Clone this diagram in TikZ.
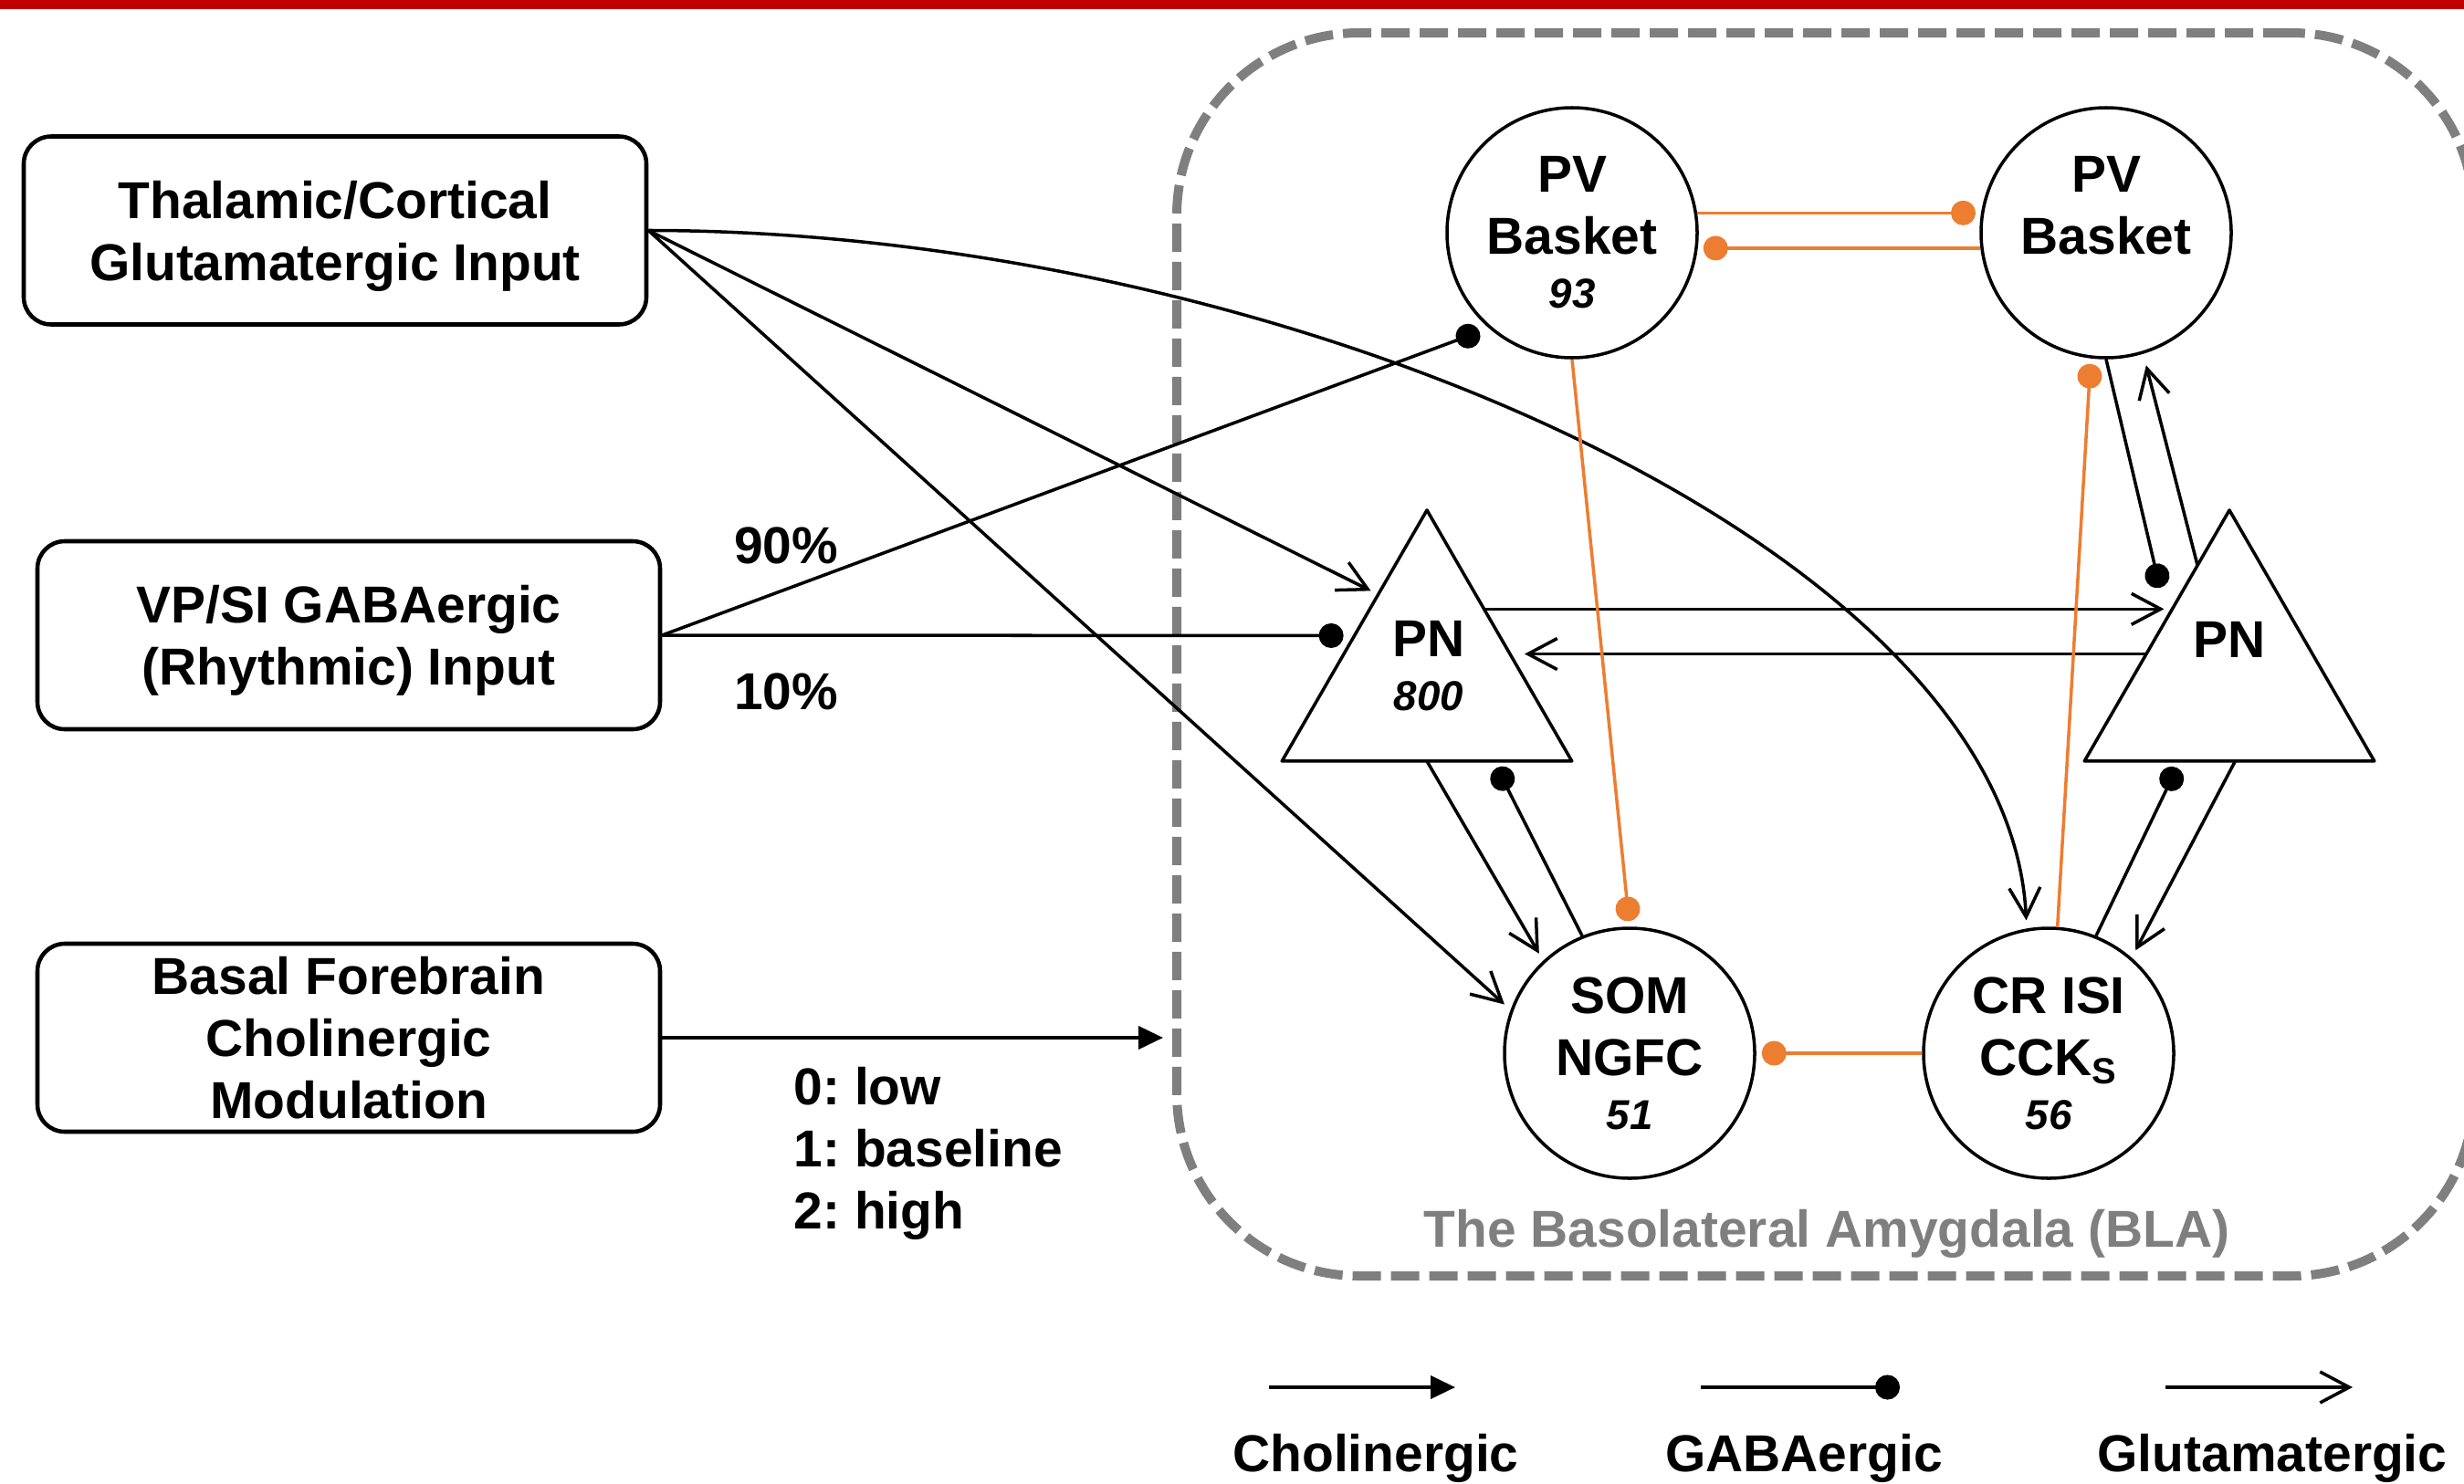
\documentclass[tikz,border=0pt]{standalone}
\usepackage{fontspec}
\setmainfont{Liberation Sans}
\usetikzlibrary{arrows.meta,shapes.geometric,calc}
\definecolor{rojobarra}{HTML}{C00000}
\definecolor{naranja}{HTML}{ED7D31}
\definecolor{gris}{HTML}{7F7F7F}
\newcommand{\numtxt}{\fontsize{13}{16}\selectfont\itshape}
\frenchspacing

\begin{document}
\begin{tikzpicture}[line width=1pt, line join=round,
    every node/.style={font=\fontsize{16.2}{19.4}\selectfont\bfseries, align=center, inner sep=0pt},
    caja/.style={draw, line width=1.3pt, rounded corners=0.3cm, minimum width=6.82cm, minimum height=2.06cm, text depth=0pt},
    celula/.style={draw, circle, minimum size=2.74cm},
    piramide/.style={draw, regular polygon, regular polygon sides=3, minimum size=3.667cm, outer sep=0pt},
    glu/.style={-{Straight Barb[length=0.32cm,width=0.34cm]}, shorten >=0.09cm},
    gaba/.style={-{Circle[length=0.27cm]}, shorten >=0.08cm},
    gabanar/.style={gaba, naranja, shorten >=0.06cm},
    chol/.style={-{Triangle[length=0.27cm,width=0.25cm]}, line width=1.1pt},
    zona/.style={draw=gris, line width=0.1cm, dash pattern=on 0.31cm off 0.11cm, rounded corners=2cm, minimum width=14.21cm, minimum height=13.62cm}]
  \useasboundingbox (0,0) rectangle (26.99,-16.25);
  % la franja roja de arriba
  \fill[rojobarra] (0,0) rectangle (26.99,-0.105);
  % la amigdala basolateral, con su nombre abajo
  \node[zona] (bla) at (19.995,-7.17) {};
  \node[text=gris, anchor=base] (blatxt) at (20.01,-13.66) {The Basolateral Amygdala (BLA)};
  % las tres entradas de la izquierda
  \node[caja] (thal) at (3.67,-2.525) {Thalamic/Cortical\\Glutamatergic Input};
  \node[caja] (vpsi) at (3.82,-6.96) {VP/SI GABAergic\\(Rhythmic) Input};
  \node[caja] (bf) at (3.82,-11.37) {Basal Forebrain\\Cholinergic\\Modulation};
  % las celulas (circulos) y las piramidales (triangulos)
  \node[celula] (pvA) at (17.22,-2.55) {PV\\Basket\\[-2.6pt]{\numtxt 93}};
  \node[celula] (pvB) at (23.07,-2.55) {PV\\Basket\\[-2.6pt]{\numtxt\phantom{93}}};
  \node[celula] (som) at (17.85,-11.54) {SOM\\NGFC\\[-2.6pt]{\numtxt 51}};
  \node[celula] (crisi) at (22.44,-11.54) {CR ISI\\CCK\textsubscript{S}\\[-2.6pt]{\numtxt 56}};
  \node[piramide] (pnA) at (15.63,-7.423) {};
  \node[piramide] (pnB) at (24.42,-7.423) {};
  \node (pnAtxt) at (15.65,-7.295) {PN\\[-2.6pt]{\numtxt 800}};
  \node (pnBtxt) at (24.42,-7.005) {PN};
  % glutamatergicas (punta abierta)
  \draw[glu] (thal.east) .. controls +(6.92,0) and +(-0.2,4.19) .. (crisi.100);
  \draw[glu] (thal.east) -- ($(pnA.corner 1)!0.336!(pnA.corner 2)$);
  \draw[glu] (thal.east) -- (som.160);
  \draw[glu] ($(pnA.corner 1)!0.394!(pnA.corner 3)$) -- ($(pnB.corner 1)!0.394!(pnB.corner 2)$);
  \draw[glu, shorten >=0.16cm] ($(pnB.corner 1)!0.573!(pnB.corner 2)$) -- ($(pnA.corner 1)!0.573!(pnA.corner 3)$);
  \draw[glu] (pnA.side 2) -- (som.133);
  \draw[glu] ($(pnB.corner 2)!0.52!(pnB.corner 3)$) -- (crisi.49);
  \draw[glu, shorten >=0.13cm] ($(pnB.corner 1)!0.22!(pnB.corner 2)$) -- (pvB.287);
  % gabaergicas (punto negro)
  \draw[gaba, shorten >=0.11cm] (vpsi.east) -- (pvA.229);
  \draw[gaba, shorten >=0.12cm] (vpsi.east) -- (pnA.side 1);
  \draw[gaba] (som.112) -- ($(pnA.corner 2)!0.73!(pnA.corner 3)$);
  \draw[gaba] (crisi.68) -- ($(pnB.corner 2)!0.33!(pnB.corner 3)$);
  \draw[gaba, shorten >=0pt] (pvB.south) -- ([shift={(-0.76,-0.85)}]pnB.corner 1);
  % las interneuronas entre si (en naranja)
  \draw[gabanar] (pvA.9) -- (pvB.171);
  \draw[gabanar] (pvB.187) -- (pvA.-7);
  \draw[gabanar] (pvA.south) -- (som.north);
  \draw[gabanar] (crisi.86) -- (pvB.263);
  \draw[gabanar] (crisi.west) -- (som.east);
  % la colinergica, que llega al borde de la BLA
  \draw[chol, shorten >=0.1cm] (bf.east) -- (bf.east -| bla.west);
  \node (pct90) at (8.61,-5.98) {90\%};
  \node (pct10) at (8.61,-7.58) {10\%};
  \node[anchor=north west, align=left] (niveles) at (8.68,-11.67) {0: low\\1: baseline\\2: high};
  % la leyenda
  \coordinate (cholA) at (13.90,-15.20); \coordinate (cholB) at (15.94,-15.20);
  \coordinate (gabaA) at (18.63,-15.20); \coordinate (gabaB) at (20.81,-15.20);
  \coordinate (gluA) at (23.72,-15.20); \coordinate (gluB) at (25.77,-15.20);
  \draw[chol] (cholA) -- (cholB);
  \draw[gaba, shorten >=0pt] (gabaA) -- (gabaB);
  \draw[glu, shorten >=0pt] (gluA) -- (gluB);
  \node[anchor=base] (leychol) at (15.07,-16.12) {Cholinergic};
  \node[anchor=base] (leygaba) at (19.76,-16.12) {GABAergic};
  \node[anchor=base] (leyglu) at (24.89,-16.12) {Glutamatergic};
\end{tikzpicture}
\end{document}
